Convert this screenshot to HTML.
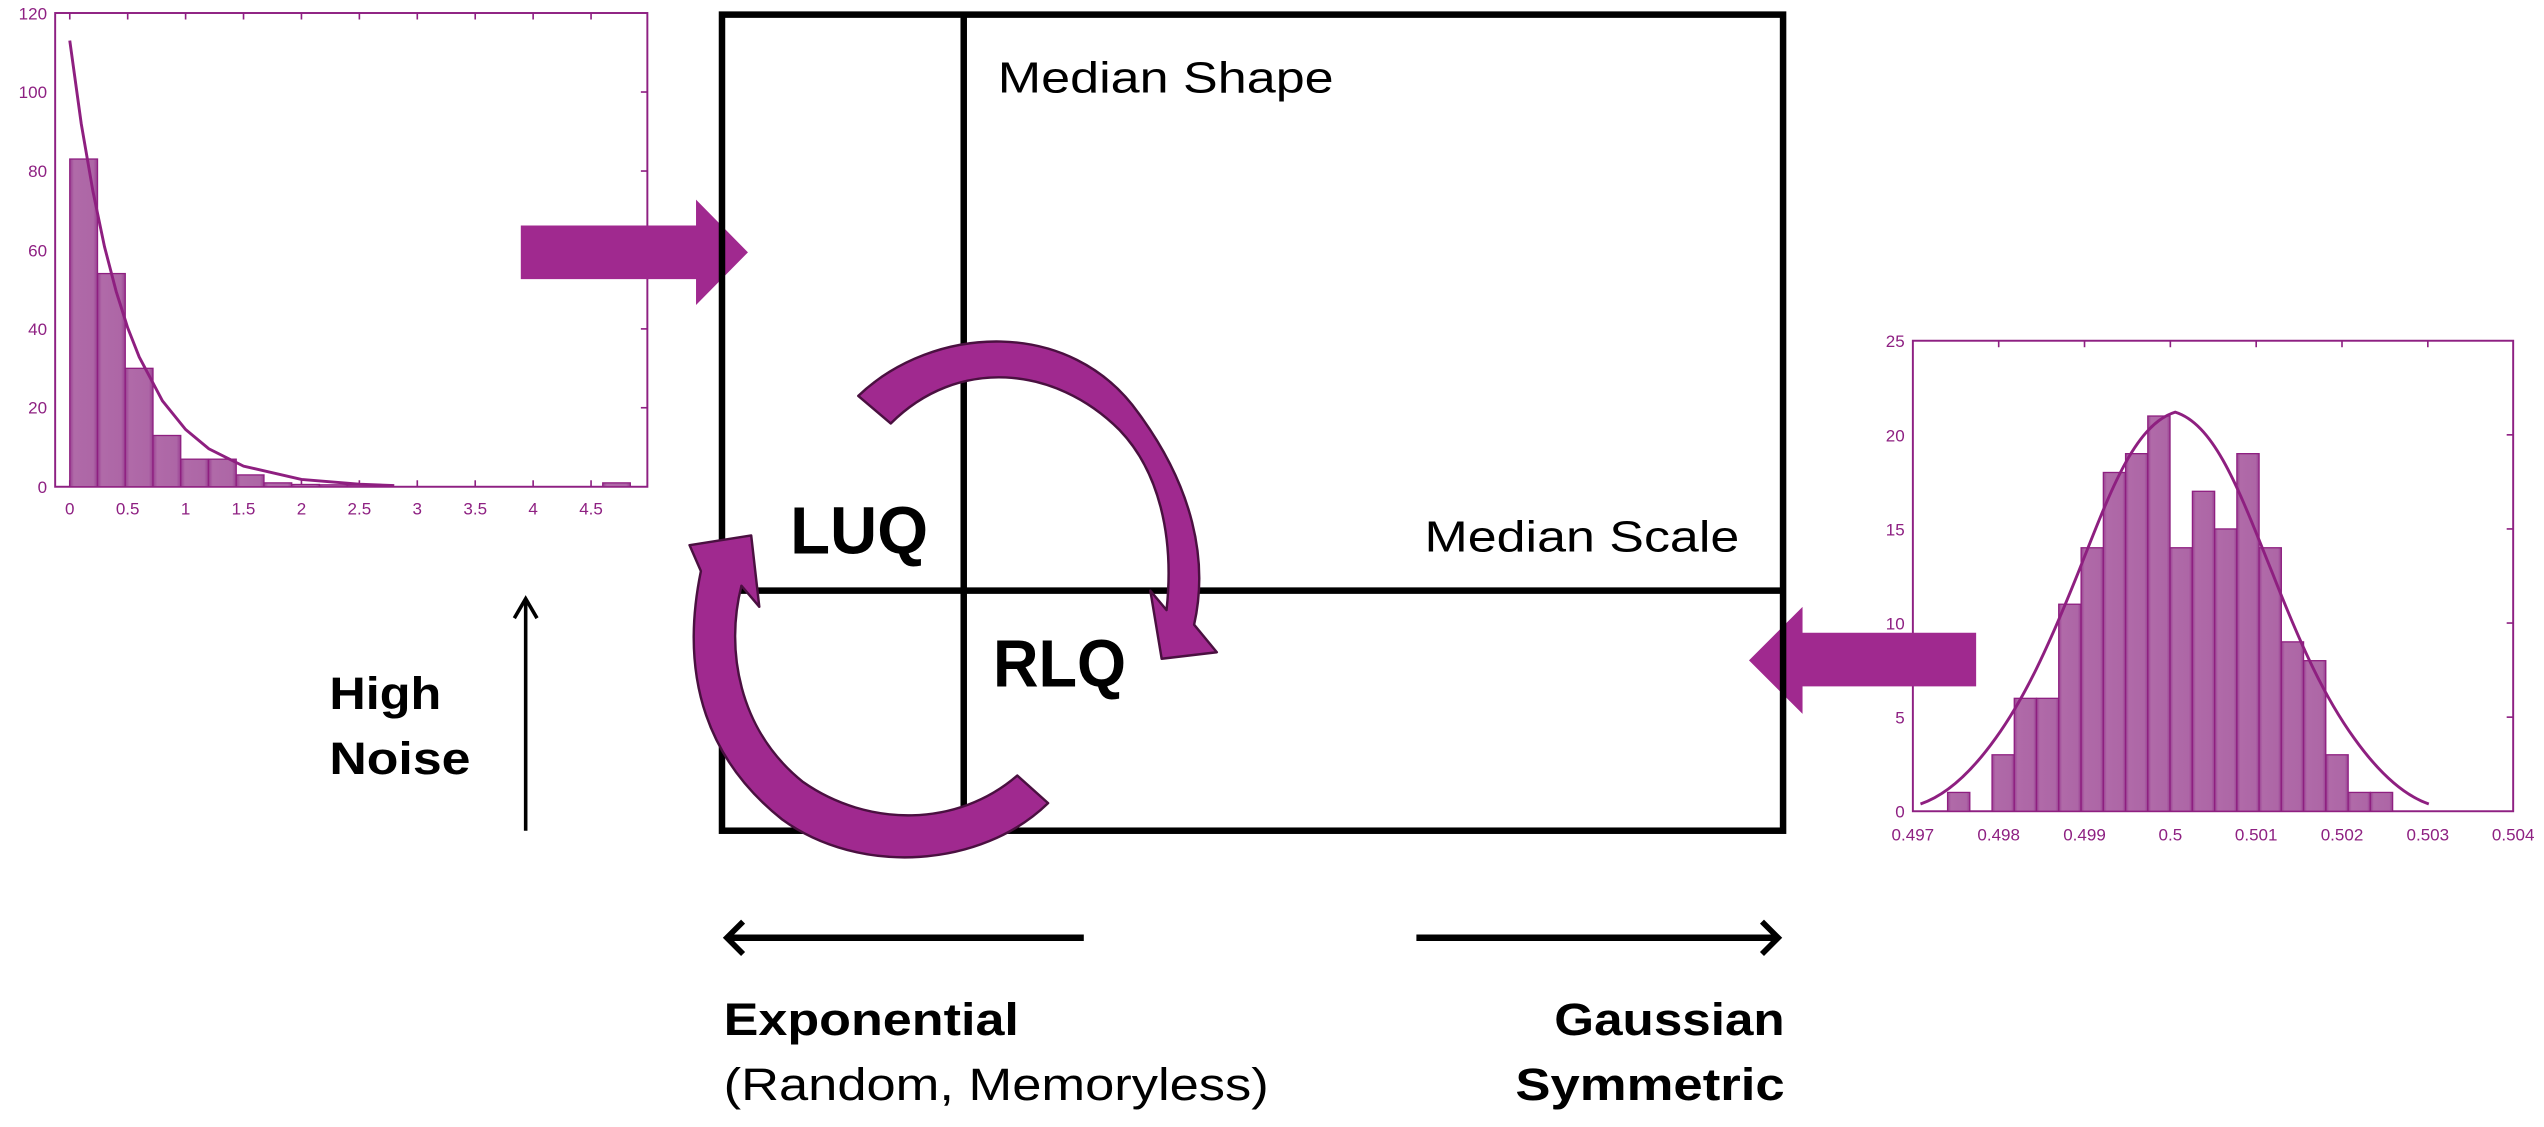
<!DOCTYPE html>
<html><head><meta charset="utf-8"><style>
html,body{margin:0;padding:0;background:#fff;width:2544px;height:1127px;overflow:hidden}
svg{display:block}
</style></head><body>
<svg width="2544" height="1127" viewBox="0 0 1568 694.6" xmlns="http://www.w3.org/2000/svg">
<defs>
<linearGradient id="bar" x1="0" x2="1"><stop offset="0" stop-color="#9a3f92"/><stop offset=".15" stop-color="#b06aa8"/><stop offset=".85" stop-color="#ad66a6"/><stop offset="1" stop-color="#9a3f92"/></linearGradient>
</defs>
<!-- LEFT CHART -->
<g font-family="Liberation Sans, sans-serif" font-size="10.5" fill="#8e2082">
<rect x="34" y="8" width="365" height="292" fill="none" stroke="#8e2082" stroke-width="1.2"/>
<g stroke="#8e2082" stroke-width="1">
<line x1="43" y1="300" x2="43" y2="296"/><line x1="78.7" y1="300" x2="78.7" y2="296"/><line x1="114.4" y1="300" x2="114.4" y2="296"/><line x1="150.1" y1="300" x2="150.1" y2="296"/><line x1="185.8" y1="300" x2="185.8" y2="296"/><line x1="221.5" y1="300" x2="221.5" y2="296"/><line x1="257.2" y1="300" x2="257.2" y2="296"/><line x1="292.9" y1="300" x2="292.9" y2="296"/><line x1="328.6" y1="300" x2="328.6" y2="296"/><line x1="364.3" y1="300" x2="364.3" y2="296"/>
<line x1="43" y1="8" x2="43" y2="12"/><line x1="78.7" y1="8" x2="78.7" y2="12"/><line x1="114.4" y1="8" x2="114.4" y2="12"/><line x1="150.1" y1="8" x2="150.1" y2="12"/><line x1="185.8" y1="8" x2="185.8" y2="12"/><line x1="221.5" y1="8" x2="221.5" y2="12"/><line x1="257.2" y1="8" x2="257.2" y2="12"/><line x1="292.9" y1="8" x2="292.9" y2="12"/><line x1="328.6" y1="8" x2="328.6" y2="12"/><line x1="364.3" y1="8" x2="364.3" y2="12"/>
<line x1="395" y1="251.3" x2="399" y2="251.3"/><line x1="395" y1="202.7" x2="399" y2="202.7"/><line x1="395" y1="154" x2="399" y2="154"/><line x1="395" y1="105.4" x2="399" y2="105.4"/><line x1="395" y1="56.7" x2="399" y2="56.7"/>
</g>
<g text-anchor="end"><text x="29" y="304">0</text><text x="29" y="255">20</text><text x="29" y="206.5">40</text><text x="29" y="158">60</text><text x="29" y="109">80</text><text x="29" y="60.5">100</text><text x="29" y="12">120</text></g>
<g text-anchor="middle"><text x="43" y="317">0</text><text x="78.7" y="317">0.5</text><text x="114.4" y="317">1</text><text x="150.1" y="317">1.5</text><text x="185.8" y="317">2</text><text x="221.5" y="317">2.5</text><text x="257.2" y="317">3</text><text x="292.9" y="317">3.5</text><text x="328.6" y="317">4</text><text x="364.3" y="317">4.5</text></g>
<g fill="url(#bar)" stroke="#8e1f80" stroke-width="0.8">
<rect x="43" y="98" width="17.1" height="202"/><rect x="60.1" y="168.6" width="17.1" height="131.4"/><rect x="77.2" y="227" width="17.1" height="73"/><rect x="94.3" y="268.4" width="17.1" height="31.6"/><rect x="111.4" y="283" width="17.1" height="17"/><rect x="128.5" y="283" width="17.1" height="17"/><rect x="145.6" y="292.7" width="17.1" height="7.3"/><rect x="162.7" y="297.6" width="17.1" height="2.4"/><rect x="179.8" y="298.6" width="17.1" height="1.4"/><rect x="196.9" y="298.8" width="17.1" height="1.2"/><rect x="214" y="299" width="17.1" height="1"/><rect x="371.5" y="297.6" width="17" height="2.4"/>
</g>
<polyline fill="none" stroke="#8e1f80" stroke-width="1.8" points="43,25 50.1,76.4 57.3,118 64.4,152 71.6,179.6 78.7,202 85.8,220 100.1,247 114.4,264.7 128.7,276.6 150.1,287.3 185.8,295.5 221.5,298.4 243,299.3"/>
</g>
<!-- RIGHT CHART -->
<g font-family="Liberation Sans, sans-serif" font-size="10.5" fill="#8e2082">
<rect x="1179" y="210" width="370" height="290" fill="none" stroke="#8e2082" stroke-width="1.2"/>
<g stroke="#8e2082" stroke-width="1">
<line x1="1231.9" y1="210" x2="1231.9" y2="214"/><line x1="1284.8" y1="210" x2="1284.8" y2="214"/><line x1="1337.7" y1="210" x2="1337.7" y2="214"/><line x1="1390.6" y1="210" x2="1390.6" y2="214"/><line x1="1443.5" y1="210" x2="1443.5" y2="214"/><line x1="1496.4" y1="210" x2="1496.4" y2="214"/>
<line x1="1545" y1="442" x2="1549" y2="442"/><line x1="1545" y1="384" x2="1549" y2="384"/><line x1="1545" y1="326" x2="1549" y2="326"/><line x1="1545" y1="268" x2="1549" y2="268"/>
</g>
<g text-anchor="end"><text x="1174" y="504">0</text><text x="1174" y="446">5</text><text x="1174" y="388">10</text><text x="1174" y="330">15</text><text x="1174" y="272">20</text><text x="1174" y="214">25</text></g>
<g text-anchor="middle"><text x="1179" y="518">0.497</text><text x="1231.9" y="518">0.498</text><text x="1284.8" y="518">0.499</text><text x="1337.7" y="518">0.5</text><text x="1390.6" y="518">0.501</text><text x="1443.5" y="518">0.502</text><text x="1496.4" y="518">0.503</text><text x="1549" y="518">0.504</text></g>
<g fill="url(#bar)" stroke="#8e1f80" stroke-width="0.8">
<rect x="1200.4" y="488.4" width="13.7" height="11.6"/>
<rect x="1227.8" y="465.2" width="13.7" height="34.8"/><rect x="1241.5" y="430.4" width="13.7" height="69.6"/><rect x="1255.2" y="430.4" width="13.7" height="69.6"/><rect x="1268.9" y="372.4" width="13.7" height="127.6"/><rect x="1282.7" y="337.6" width="13.7" height="162.4"/><rect x="1296.4" y="291.2" width="13.7" height="208.8"/><rect x="1310.1" y="279.6" width="13.7" height="220.4"/><rect x="1323.8" y="256.4" width="13.7" height="243.6"/><rect x="1337.5" y="337.6" width="13.7" height="162.4"/><rect x="1351.3" y="302.8" width="13.7" height="197.2"/><rect x="1365" y="326" width="13.7" height="174"/><rect x="1378.7" y="279.6" width="13.7" height="220.4"/><rect x="1392.4" y="337.6" width="13.7" height="162.4"/><rect x="1406.1" y="395.6" width="13.7" height="104.4"/><rect x="1419.8" y="407.2" width="13.7" height="92.8"/><rect x="1433.6" y="465.2" width="13.7" height="34.8"/><rect x="1447.3" y="488.4" width="13.7" height="11.6"/><rect x="1461" y="488.4" width="13.7" height="11.6"/>
</g>
<path fill="none" stroke="#8e1f80" stroke-width="1.8" d="M1183.7,495.5 C1200,490 1215,476 1230,455 C1248,430 1262,400 1280.7,353.4 C1300,305 1315,262 1340.7,254 C1366,262 1381,305 1400.7,353.4 C1419,400 1433,430 1451,455 C1466,476 1481,490 1497,495.5"/>
</g>
<!-- Purple block arrows -->
<polygon fill="#a0298f" points="321,139 429,139 429,123 461,155.5 429,188 429,172 321,172"/>
<polygon fill="#a0298f" points="1218,390 1111,390 1111,374 1078,407 1111,440 1111,423 1218,423"/>
<!-- MAIN BOX -->
<g fill="none" stroke="#000" stroke-width="4">
<rect x="445" y="9" width="654" height="503"/>
<line x1="594" y1="9" x2="594" y2="512"/>
<line x1="445" y1="364" x2="1099" y2="364"/>
</g>
<g font-family="Liberation Sans, sans-serif" fill="#000">
<text x="615" y="57" font-size="27" textLength="207" lengthAdjust="spacingAndGlyphs">Median Shape</text>
<text x="878" y="340" font-size="27" textLength="194" lengthAdjust="spacingAndGlyphs">Median Scale</text>
<text x="487" y="341" font-size="41" font-weight="bold" textLength="85" lengthAdjust="spacingAndGlyphs">LUQ</text>
<text x="612" y="423" font-size="41" font-weight="bold" textLength="82" lengthAdjust="spacingAndGlyphs">RLQ</text>
<text x="203" y="437" font-size="28" font-weight="bold" textLength="69" lengthAdjust="spacingAndGlyphs">High</text>
<text x="203" y="477" font-size="28" font-weight="bold" textLength="87" lengthAdjust="spacingAndGlyphs">Noise</text>
<text x="446" y="638" font-size="28" font-weight="bold" textLength="182" lengthAdjust="spacingAndGlyphs">Exponential</text>
<text x="446" y="678" font-size="28" textLength="336" lengthAdjust="spacingAndGlyphs">(Random, Memoryless)</text>
<text x="958" y="638" font-size="28" font-weight="bold" textLength="142" lengthAdjust="spacingAndGlyphs">Gaussian</text>
<text x="934" y="678" font-size="28" font-weight="bold" textLength="166" lengthAdjust="spacingAndGlyphs">Symmetric</text>
</g>
<!-- black arrows -->
<g stroke="#000" fill="none">
<line x1="324" y1="512" x2="324" y2="370" stroke-width="2.2"/>
<polyline points="317,381 324,369 331,381" stroke-width="2.2"/>
<line x1="668" y1="578" x2="449" y2="578" stroke-width="4"/>
<polyline points="458,568 448,578 458,588" stroke-width="3.5"/>
<line x1="873" y1="578" x2="1094" y2="578" stroke-width="4"/>
<polyline points="1086,568 1096,578 1086,588" stroke-width="3.5"/>
</g>
<!-- curved arrows -->
<g fill="#a0298f" stroke="#4a1040" stroke-width="1.5" stroke-linejoin="round">
<path d="M529,244 C575,200 660,195 702,255 C735,300 745,345 736,385 L750,402 L716,406 L709,364 L719,376 C724,330 714,290 690,265 C650,225 590,220 549,261 Z"/>
<path d="M646,495 C605,535 530,540 482,505 C438,470 418,420 432,352 L425,336 L463,330 L468,374 L457,361 C447,400 455,450 495,482 C535,510 590,510 627,478 Z"/>
</g>
</svg>
</body></html>
